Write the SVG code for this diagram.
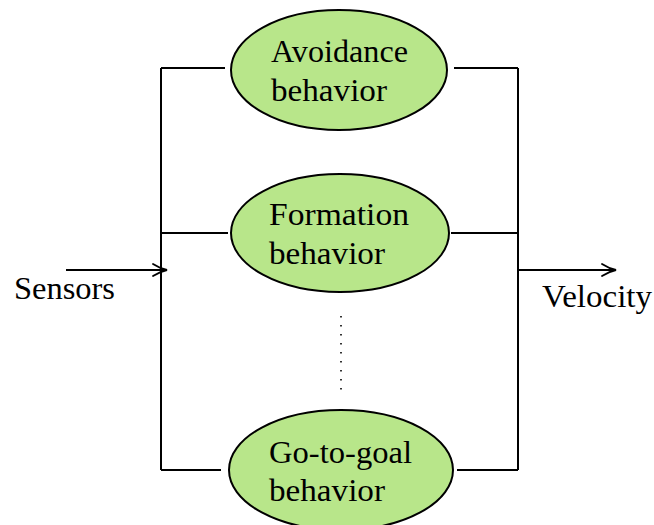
<svg xmlns="http://www.w3.org/2000/svg" width="654" height="525" viewBox="0 0 654 525">
<defs>
<style>
.n{fill:#b8e68a;stroke:#000;stroke-width:2}
.t{font-family:"Liberation Serif","Times New Roman",serif;font-size:31px;fill:#000}
.c{fill:none;stroke:#000;stroke-width:2}
.h{fill:none;stroke:#000;stroke-width:1.8;stroke-linecap:round}
</style>
</defs>
<rect width="654" height="525" fill="#fff"/>
<g id="connectors">
<path class="c" d="M161,68 V470 M518,68 V470"/>
<path class="c" d="M161,68 H225 M454,68 H518"/>
<path class="c" d="M161,233 H228 M451,233 H518"/>
<path class="c" d="M161,470 H221 M457,470 H518"/>
<path class="c" d="M66,270 H166"/>
<path class="h" d="M153,264 Q160,268.5 167,270 Q160,271.5 153,276"/>
<path class="c" d="M518,270 H615"/>
<path class="h" d="M602,264 Q609,268.5 616,270 Q609,271.5 602,276"/>
<path d="M341,316 V390" fill="none" stroke="#000" stroke-width="1.6" stroke-dasharray="1.6,7.4"/>
</g>
<g id="avoidance">
<ellipse class="n" cx="339" cy="70" rx="108" ry="60"/>
<text class="t" x="271" y="62" textLength="137" lengthAdjust="spacingAndGlyphs">Avoidance</text>
<text class="t" x="271" y="101" textLength="116" lengthAdjust="spacingAndGlyphs">behavior</text>
</g>
<g id="formation">
<ellipse class="n" cx="340" cy="233" rx="109" ry="59"/>
<text class="t" x="269" y="225" textLength="140" lengthAdjust="spacingAndGlyphs">Formation</text>
<text class="t" x="269" y="264" textLength="116" lengthAdjust="spacingAndGlyphs">behavior</text>
</g>
<g id="gotogoal">
<ellipse class="n" cx="341" cy="470" rx="112" ry="60"/>
<text class="t" x="269" y="463" textLength="143" lengthAdjust="spacingAndGlyphs">Go-to-goal</text>
<text class="t" x="269" y="501" textLength="116" lengthAdjust="spacingAndGlyphs">behavior</text>
</g>
<g id="sensors">
<text class="t" x="14" y="299" textLength="101" lengthAdjust="spacingAndGlyphs">Sensors</text>
</g>
<g id="velocity">
<text class="t" x="542" y="307" textLength="110" lengthAdjust="spacingAndGlyphs">Velocity</text>
</g>
</svg>
